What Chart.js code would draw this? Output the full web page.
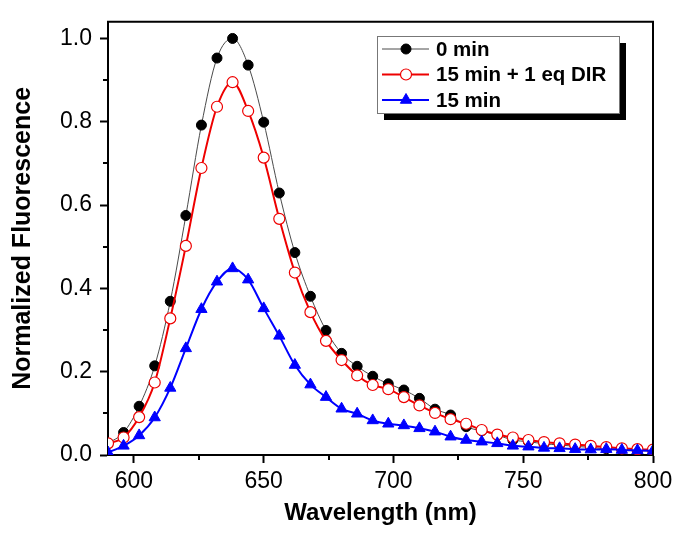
<!DOCTYPE html>
<html>
<head>
<meta charset="utf-8">
<script src="https://cdn.jsdelivr.net/npm/chart.js@4.4.1/dist/chart.umd.min.js"></script>
<style>
    html, body { margin: 0; padding: 0; background: #fff; }
</style>
</head>
<body>
<canvas id="fluorChart" width="685" height="540"></canvas>
<script>
// Wellenlaengen der Messpunkte (nm)
const wavelengths = [590, 596, 602, 608, 614, 620, 626, 632, 638, 644, 650, 656,
                     662, 668, 674, 680, 686, 692, 698, 704, 710, 716, 722, 728,
                     734, 740, 746, 752, 758, 764, 770, 776, 782, 788, 794, 800];

const min0 = [0.028, 0.054, 0.117, 0.214, 0.369, 0.575, 0.792, 0.953, 1.000, 0.936, 0.799, 0.629,
              0.486, 0.381, 0.299, 0.244, 0.213, 0.189, 0.171, 0.156, 0.136, 0.110, 0.096, 0.068,
              0.058, 0.048, 0.036, 0.032, 0.027, 0.024, 0.021, 0.018, 0.015, 0.013, 0.011, 0.009];

const min15Dir = [0.028, 0.042, 0.091, 0.174, 0.328, 0.502, 0.689, 0.836, 0.895, 0.826, 0.714, 0.567,
                  0.438, 0.343, 0.274, 0.228, 0.191, 0.168, 0.158, 0.139, 0.119, 0.101, 0.086, 0.075,
                  0.060, 0.049, 0.042, 0.036, 0.031, 0.028, 0.025, 0.022, 0.019, 0.016, 0.014, 0.013];

const min15 = [0.006, 0.022, 0.047, 0.090, 0.161, 0.256, 0.350, 0.416, 0.448, 0.421, 0.352, 0.286,
               0.216, 0.169, 0.139, 0.111, 0.099, 0.083, 0.075, 0.071, 0.064, 0.056, 0.044, 0.036,
               0.032, 0.028, 0.022, 0.020, 0.017, 0.016, 0.014, 0.013, 0.014, 0.012, 0.011, 0.010];

const seriesLabels = ['0 min', '15 min + 1 eq DIR', '15 min'];
const xTicks = [600, 650, 700, 750, 800];
const xMinorTicks = [625, 675, 725, 775];
const yTicks = [0, 0.2, 0.4, 0.6, 0.8, 1.0];
const yMinorTicks = [0.1, 0.3, 0.5, 0.7, 0.9];

const FONT = '"Liberation Sans", Arial, sans-serif';

function toPoints(values) {
    return wavelengths.map((w, i) => ({ x: w, y: values[i] }));
}

// Rahmen oben/rechts und Zwischenstriche
const framePlugin = {
    id: 'frame',
    afterDraw(chart) {
        const { ctx, chartArea: a, scales: { x, y } } = chart;
        ctx.save();
        ctx.strokeStyle = '#000';
        ctx.lineWidth = 2;
        ctx.beginPath();
        ctx.moveTo(a.left - 1, a.top);
        ctx.lineTo(a.right, a.top);
        ctx.lineTo(a.right, a.bottom + 1);
        ctx.stroke();

        ctx.beginPath();
        xMinorTicks.forEach(v => {
            const px = Math.round(x.getPixelForValue(v));
            ctx.moveTo(px, a.bottom);
            ctx.lineTo(px, a.bottom + 5);
        });
        yMinorTicks.forEach(v => {
            const py = Math.round(y.getPixelForValue(v));
            ctx.moveTo(a.left, py);
            ctx.lineTo(a.left - 5, py);
        });
        ctx.stroke();
        ctx.restore();
    }
};

// Legende mit Schatten wie im Original
const legendPlugin = {
    id: 'boxLegend',
    afterDraw(chart) {
        const ctx = chart.ctx;
        const bx = 377, by = 36, bw = 242, bh = 77;
        ctx.save();
        ctx.fillStyle = '#000';
        ctx.fillRect(bx + 7, by + 7, bw, bh);
        ctx.fillStyle = '#fff';
        ctx.fillRect(bx, by, bw, bh);
        ctx.strokeStyle = '#777';
        ctx.lineWidth = 1;
        ctx.strokeRect(bx + 0.5, by + 0.5, bw, bh);

        const rows = [49, 74.5, 100];
        chart.data.datasets.forEach((ds, i) => {
            const yy = rows[i];
            ctx.strokeStyle = ds.borderColor;
            ctx.lineWidth = ds.borderWidth;
            ctx.beginPath();
            ctx.moveTo(382, yy);
            ctx.lineTo(429, yy);
            ctx.stroke();

            ctx.fillStyle = ds.pointBackgroundColor;
            ctx.strokeStyle = ds.pointBorderColor;
            ctx.lineWidth = ds.pointBorderWidth;
            Chart.helpers.drawPoint(ctx, {
                pointStyle: ds.pointStyle,
                radius: ds.pointRadius,
                rotation: 0,
                borderWidth: ds.pointBorderWidth
            }, 406, yy);

            ctx.fillStyle = '#000';
            ctx.font = 'bold 20.5px ' + FONT;
            ctx.textBaseline = 'middle';
            ctx.textAlign = 'left';
            ctx.fillText(ds.label, 436, yy + 1);
        });
        ctx.restore();
    }
};

const ctx = document.getElementById('fluorChart').getContext('2d');
new Chart(ctx, {
    type: 'line',
    data: {
        datasets: [{
            label: seriesLabels[0],
            data: toPoints(min0),
            borderColor: '#4a4a4a',
            borderWidth: 1,
            pointStyle: 'circle',
            pointRadius: 5,
            pointBackgroundColor: '#000',
            pointBorderColor: '#000',
            pointBorderWidth: 1,
            order: 3
        }, {
            label: seriesLabels[1],
            data: toPoints(min15Dir),
            borderColor: '#ee0000',
            borderWidth: 2,
            pointStyle: 'circle',
            pointRadius: 5.5,
            pointBackgroundColor: '#fff',
            pointBorderColor: '#ee0000',
            pointBorderWidth: 1.2,
            order: 2
        }, {
            label: seriesLabels[2],
            data: toPoints(min15),
            borderColor: '#0000ff',
            borderWidth: 2,
            pointStyle: 'triangle',
            pointRadius: 6.5,
            pointBackgroundColor: '#0000ff',
            pointBorderColor: '#0000ff',
            pointBorderWidth: 1,
            order: 1
        }]
    },
    options: {
        responsive: false,
        animation: false,
        cubicInterpolationMode: 'monotone',
        layout: {
            padding: { left: 0, right: 32, top: 18, bottom: 0 }
        },
        plugins: {
            legend: { display: false },
            tooltip: { enabled: false }
        },
        scales: {
            x: {
                type: 'linear',
                min: 590,
                max: 800,
                afterBuildTicks: scale => { scale.ticks = xTicks.map(v => ({ value: v })); },
                afterFit: scale => { scale.height = 85; },
                grid: {
                    drawOnChartArea: false,
                    drawTicks: true,
                    tickLength: 8,
                    tickWidth: 2,
                    tickColor: '#000'
                },
                border: { display: true, color: '#000', width: 2 },
                ticks: {
                    padding: 5,
                    color: '#000',
                    maxRotation: 0,
                    font: { family: FONT, size: 23 },
                    callback: value => String(value)
                },
                title: {
                    display: true,
                    text: 'Wavelength (nm)',
                    color: '#000',
                    padding: { top: 0, bottom: 12 },
                    font: { family: FONT, size: 24, weight: 'bold' }
                }
            },
            y: {
                type: 'linear',
                min: 0,
                max: 1.04,
                afterBuildTicks: scale => { scale.ticks = yTicks.map(v => ({ value: v })); },
                afterFit: scale => { scale.width = 108; },
                grid: {
                    drawOnChartArea: false,
                    drawTicks: true,
                    tickLength: 8,
                    tickWidth: 2,
                    tickColor: '#000'
                },
                border: { display: true, color: '#000', width: 2 },
                ticks: {
                    padding: 8,
                    color: '#000',
                    font: { family: FONT, size: 23 },
                    callback: value => Number(value).toFixed(1)
                },
                title: {
                    display: true,
                    text: 'Normalized Fluorescence',
                    color: '#000',
                    padding: { top: 8, bottom: 0 },
                    font: { family: FONT, size: 25, weight: 'bold' }
                }
            }
        }
    },
    plugins: [framePlugin, legendPlugin]
});
</script>
</body>
</html>
